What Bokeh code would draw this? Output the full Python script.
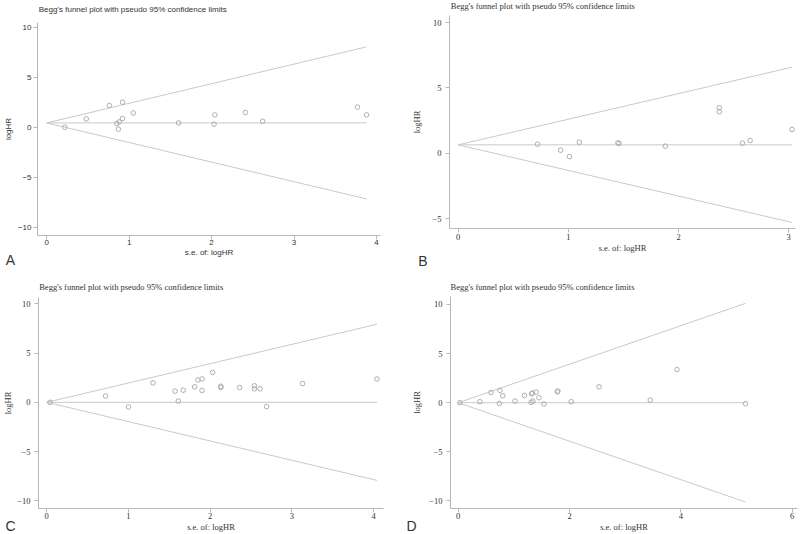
import numpy as np
from bokeh.plotting import figure
from bokeh.layouts import column, row
from bokeh.models import Range1d, FixedTicker, Label, ColumnDataSource
from bokeh.embed import file_html
from bokeh.resources import INLINE

# ---------------- data ----------------
title_text = "Begg's funnel plot with pseudo 95% confidence limits"
x_label = "s.e. of: logHR"
y_label = "logHR"
panel_letters = ["A", "B", "C", "D"]

a_se = [0.22, 0.48, 0.76, 0.92, 0.85, 0.88, 0.87, 0.92, 1.05, 1.60, 2.03, 2.04, 2.41, 2.62, 3.77, 3.88]
a_loghr = [0.00, 0.83, 2.17, 2.50, 0.37, 0.53, -0.20, 0.87, 1.43, 0.43, 0.30, 1.23, 1.47, 0.60, 2.00, 1.23]
a_pooled = 0.43

b_se = [0.72, 0.93, 1.01, 1.10, 1.45, 1.46, 1.88, 2.37, 2.37, 2.58, 2.65, 3.03]
b_loghr = [0.69, 0.23, -0.26, 0.84, 0.79, 0.74, 0.54, 3.48, 3.17, 0.77, 0.97, 1.82]
b_pooled = 0.64

c_se = [0.04, 0.72, 1.00, 1.30, 1.57, 1.61, 1.67, 1.81, 1.85, 1.90, 1.90, 2.03, 2.13, 2.13,
        2.36, 2.54, 2.54, 2.61, 2.69, 3.13, 4.04]
c_loghr = [0.00, 0.63, -0.47, 1.97, 1.13, 0.13, 1.23, 1.57, 2.27, 2.37, 1.20, 3.03, 1.63, 1.50,
           1.50, 1.67, 1.37, 1.37, -0.43, 1.90, 2.37]
c_pooled = 0.0

d_se = [0.03, 0.39, 0.59, 0.74, 0.75, 0.80, 1.02, 1.19, 1.31, 1.32, 1.33, 1.34, 1.40, 1.45,
        1.54, 1.78, 1.79, 2.03, 2.53, 3.45, 3.93, 5.16]
d_loghr = [0.00, 0.10, 1.04, -0.07, 1.25, 0.71, 0.17, 0.74, 0.03, 0.91, 0.98, 0.17, 1.08, 0.50,
           -0.13, 1.11, 1.18, 0.10, 1.62, 0.27, 3.37, -0.10]
d_pooled = 0.0

a_xticks = [0, 1, 2, 3, 4]
b_xticks = [0, 1, 2, 3]
c_xticks = [0, 1, 2, 3, 4]
d_xticks = [0, 2, 4, 6]
a_yticks = [-10, -5, 0, 5, 10]
b_yticks = [-5, 0, 5, 10]
c_yticks = [-10, -5, 0, 5, 10]
d_yticks = [-10, -5, 0, 5, 10]

# ---------------- layout (reference-pixel calibration) ----------------
W, H = 400, 267

SANS = "Liberation Sans"
SERIF = "Liberation Serif"

layout = {
    "A": dict(origin=(0, 0), xcal=(42.3, 83.4), ycal=(126.7, 10.0),
              frame=(33, 380, 21.7, 235), font=SANS, fs=8, title=(34.3, 9.3),
              letter=(1, 259), letter_side="right",
              tick_std=2, ylab_std=2, xtick_std=0, xlab_std=0),
    "B": dict(origin=(400, 0), xcal=(456.7, 110.5), ycal=(152.7, 13.07),
              frame=(448.3, 795, 15, 228.3), font=SERIF, fs=8.5, title=(449.3, 5.0),
              letter=(416.7, 260), letter_side="left",
              tick_std=4, ylab_std=7, xtick_std=1, xlab_std=0),
    "C": dict(origin=(0, 267), xcal=(42.3, 82.7), ycal=(403.3, 10.0),
              frame=(34.3, 383, 297.3, 510.7), font=SERIF, fs=8.5, title=(34.7, 286),
              letter=(0.5, 528.5), letter_side="above",
              tick_std=4, ylab_std=1, xtick_std=0, xlab_std=0),
    "D": dict(origin=(400, 267), xcal=(457.7, 55.67), ycal=(403.2, 9.915),
              frame=(450, 796.7, 296.3, 510), font=SERIF, fs=8.5, title=(450, 286),
              letter=(406, 527.3), letter_side="above",
              tick_std=4, ylab_std=4, xtick_std=0, xlab_std=0),
}

series = {
    "A": (a_se, a_loghr, a_pooled, a_xticks, a_yticks),
    "B": (b_se, b_loghr, b_pooled, b_xticks, b_yticks),
    "C": (c_se, c_loghr, c_pooled, c_xticks, c_yticks),
    "D": (d_se, d_loghr, d_pooled, d_xticks, d_yticks),
}

LINE_COLOR = "#c9c9c9"
AXIS_COLOR = "#b8b8b8"
TEXT_COLOR = "#333333"
POINT_COLOR = "#a6a6a6"


def make_panel(key):
    L = layout[key]
    se, lhr, pooled, xt, yt = series[key]
    ox, oy = L["origin"]
    left, right, top, bottom = L["frame"]
    bl = int(round(left - ox))
    br = W - int(round(right - ox))
    bt = int(round(top - oy))
    bb = H - int(round(bottom - oy))

    def dx(local):
        return ((local + ox) - L["xcal"][0]) / L["xcal"][1]

    def dy(local):
        return (L["ycal"][0] - (local + oy)) / L["ycal"][1]

    p = figure(width=W, height=H, output_backend="svg", toolbar_location=None,
               x_range=Range1d(dx(bl), dx(W - br)), y_range=Range1d(dy(H - bb), dy(bt)),
               min_border_left=bl, min_border_right=br, min_border_top=bt,
               min_border_bottom=bb, background_fill_color="white",
               border_fill_color="white")
    # each panel keeps its own frame position (no frame alignment across the row)
    if "frame_align" in p.properties():
        p.frame_align = False
    p.outline_line_color = None
    p.xgrid.visible = False
    p.ygrid.visible = False

    # funnel: pooled estimate with pseudo 95% limits over the observed s.e. range
    se_arr = np.array(se)
    se_line = np.array([0.0, se_arr.max()])
    p.line(se_line, pooled + 1.96 * se_line, line_color=LINE_COLOR, line_width=1)
    p.line(se_line, pooled - 1.96 * se_line, line_color=LINE_COLOR, line_width=1)
    p.line(se_line, [pooled, pooled], line_color=LINE_COLOR, line_width=1)

    src = ColumnDataSource(dict(se=se, loghr=lhr))
    p.scatter("se", "loghr", source=src, marker="circle", size=4.6,
              fill_alpha=0, line_color=POINT_COLOR, line_width=0.9)

    font = L["font"]
    fs = f"{L['fs']}px"
    for ax in (p.xaxis[0], p.yaxis[0]):
        ax.axis_line_color = AXIS_COLOR
        ax.major_tick_line_color = AXIS_COLOR
        ax.minor_tick_line_color = None
        ax.major_tick_in = 0
        ax.major_tick_out = 4
        ax.major_label_text_font = font
        ax.major_label_text_font_size = fs
        ax.major_label_text_color = TEXT_COLOR
        ax.axis_label_text_font = font
        ax.axis_label_text_font_size = fs
        ax.axis_label_text_font_style = "normal"
        ax.axis_label_text_color = TEXT_COLOR
    p.xaxis[0].ticker = FixedTicker(ticks=xt)
    p.yaxis[0].ticker = FixedTicker(ticks=yt)
    p.yaxis[0].major_label_overrides = {v: ("\u2212" + str(abs(v)) if v < 0 else str(v)) for v in yt}
    p.xaxis[0].axis_label = x_label
    p.yaxis[0].axis_label = y_label
    p.yaxis[0].major_label_standoff = L["tick_std"]
    p.yaxis[0].axis_label_standoff = L["ylab_std"]
    p.xaxis[0].major_label_standoff = L["xtick_std"]
    p.xaxis[0].axis_label_standoff = L["xlab_std"]

    def data_pos(rx, ry):
        return (rx - L["xcal"][0]) / L["xcal"][1], (L["ycal"][0] - ry) / L["ycal"][1]

    tx, ty = data_pos(*L["title"])
    p.add_layout(Label(x=tx, y=ty, text=title_text,
                       text_font=font, text_font_size=fs, text_color=TEXT_COLOR,
                       text_align="left", text_baseline="middle"), "above")
    lx, ly = data_pos(*L["letter"])
    p.add_layout(Label(x=lx, y=ly, text=key,
                       text_font=SANS, text_font_size="14px", text_color=TEXT_COLOR,
                       text_align="left", text_baseline="middle"), L["letter_side"])
    return p


figs = [make_panel(k) for k in panel_letters]
page = column(row(figs[0], figs[1], spacing=0), row(figs[2], figs[3], spacing=0), spacing=0)

open("out.html", "w").write(file_html(page, INLINE))
